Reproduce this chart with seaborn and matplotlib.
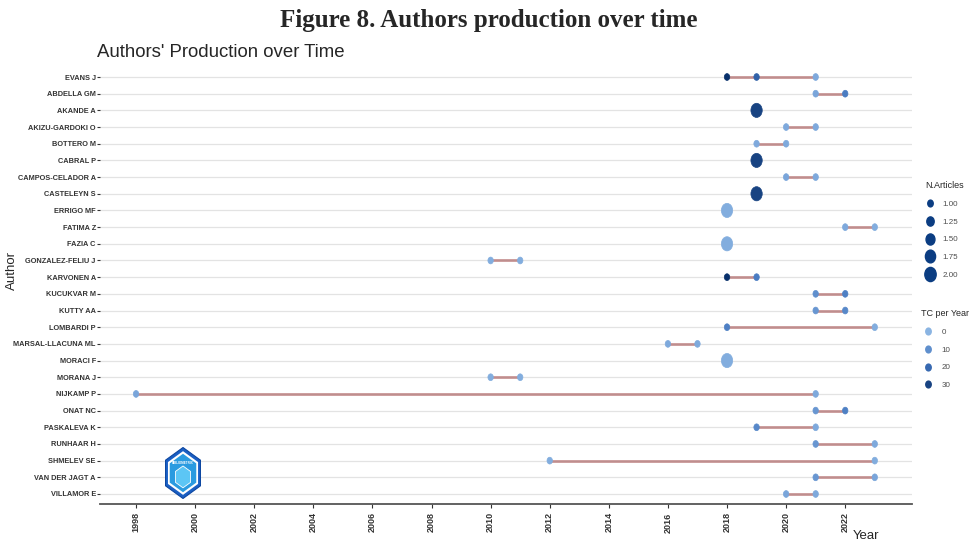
import numpy as np
import pandas as pd
import seaborn as sns
import matplotlib.pyplot as plt
from matplotlib.colors import LinearSegmentedColormap
from matplotlib.lines import Line2D
from matplotlib.patches import RegularPolygon
from matplotlib.path import Path
from matplotlib.transforms import Affine2D

# ---------------- data ----------------
authors = ["EVANS J", "ABDELLA GM", "AKANDE A", "AKIZU-GARDOKI O", "BOTTERO M",
           "CABRAL P", "CAMPOS-CELADOR A", "CASTELEYN S", "ERRIGO MF", "FATIMA Z",
           "FAZIA C", "GONZALEZ-FELIU J", "KARVONEN A", "KUCUKVAR M", "KUTTY AA",
           "LOMBARDI P", "MARSAL-LLACUNA ML", "MORACI F", "MORANA J", "NIJKAMP P",
           "ONAT NC", "PASKALEVA K", "RUNHAAR H", "SHMELEV SE", "VAN DER JAGT A",
           "VILLAMOR E"]

point_author = ["EVANS J", "EVANS J", "EVANS J", "ABDELLA GM", "ABDELLA GM", "AKANDE A",
                "AKIZU-GARDOKI O", "AKIZU-GARDOKI O", "BOTTERO M", "BOTTERO M", "CABRAL P",
                "CAMPOS-CELADOR A", "CAMPOS-CELADOR A", "CASTELEYN S", "ERRIGO MF",
                "FATIMA Z", "FATIMA Z", "FAZIA C", "GONZALEZ-FELIU J", "GONZALEZ-FELIU J",
                "KARVONEN A", "KARVONEN A", "KUCUKVAR M", "KUCUKVAR M", "KUTTY AA", "KUTTY AA",
                "LOMBARDI P", "LOMBARDI P", "MARSAL-LLACUNA ML", "MARSAL-LLACUNA ML",
                "MORACI F", "MORANA J", "MORANA J", "NIJKAMP P", "NIJKAMP P",
                "ONAT NC", "ONAT NC", "PASKALEVA K", "PASKALEVA K", "RUNHAAR H", "RUNHAAR H",
                "SHMELEV SE", "SHMELEV SE", "VAN DER JAGT A", "VAN DER JAGT A",
                "VILLAMOR E", "VILLAMOR E"]
point_year = [2018, 2019, 2021, 2021, 2022, 2019,
              2020, 2021, 2019, 2020, 2019,
              2020, 2021, 2019, 2018,
              2022, 2023, 2018, 2010, 2011,
              2018, 2019, 2021, 2022, 2021, 2022,
              2018, 2023, 2016, 2017,
              2018, 2010, 2011, 1998, 2021,
              2021, 2022, 2019, 2021, 2021, 2023,
              2012, 2023, 2021, 2023,
              2020, 2021]
n_articles = [1, 1, 1, 1, 1, 2,
              1, 1, 1, 1, 2,
              1, 1, 2, 2,
              1, 1, 2, 1, 1,
              1, 1, 1, 1, 1, 1,
              1, 1, 1, 1,
              2, 1, 1, 1, 1,
              1, 1, 1, 1, 1, 1,
              1, 1, 1, 1,
              1, 1]
tc_per_year = [35, 22, 3, 4, 15, 30,
               3, 3, 3, 3, 30,
               4, 3, 30, 2,
               3, 2, 2, 2, 2,
               35, 15, 10, 14, 8, 12,
               14, 2, 3, 3,
               2, 2, 2, 4, 3,
               8, 14, 12, 3, 8, 3,
               2, 2, 8, 4,
               4, 3]

size_levels = [1.00, 1.25, 1.50, 1.75, 2.00]
tc_levels = [0, 10, 20, 30]

df = pd.DataFrame({"Author": point_author, "Year": point_year,
                   "N.Articles": n_articles, "TC": tc_per_year})
df["row"] = df["Author"].map({a: i for i, a in enumerate(authors)})
span = df.groupby("row")["Year"].agg(["min", "max"]).reset_index()

# ---------------- style ----------------
sns.set_theme(style="white")
plt.rcParams["font.family"] = ["Liberation Sans", "DejaVu Sans"]

cmap = LinearSegmentedColormap.from_list("tc", ["#8ab4e2", "#3f73bd", "#08306b"])
tc_max = 35
# the source picture is squeezed sideways, so the dots are slightly oval
oval = Affine2D().scale(0.8, 1.0).transform_path(Path.unit_circle())

def size_of(n):
    return 24 + (n - 1) * 80

fig = plt.figure(figsize=(9.74, 5.43), dpi=100)
ax = fig.add_axes([100 / 974, 39 / 543, 812 / 974, 437 / 543])

# lines between first and last year
ax.hlines(span["row"], span["min"], span["max"], color="#8B1A1A", alpha=0.42, lw=2.1, zorder=2)

sns.scatterplot(data=df, x="Year", y="row", hue="TC", palette=cmap, hue_norm=(0, tc_max),
                size="N.Articles", sizes=(size_of(1), size_of(2)), size_norm=(1, 2),
                marker=oval, edgecolor="face", linewidth=0.5, legend=False, ax=ax, zorder=3)

ax.set_ylim(25.6, -0.6)
ax.set_yticks(range(len(authors)))
ax.set_yticklabels(authors, fontsize=5.3, fontweight="bold", color="#333333")
ax.set_xlim(1996.78, 2024.26)
ax.set_xticks(range(1998, 2023, 2))
ax.set_xticklabels([str(y) for y in range(1998, 2023, 2)], rotation=90,
                   fontsize=6.5, fontweight="bold", color="#333333")
ax.tick_params(axis="y", length=2, width=0.8, color="#333333", pad=1, left=True)
ax.tick_params(axis="x", length=3, width=0.8, color="#333333", pad=3, bottom=True)
ax.set_xlabel("")
ax.set_ylabel("")
ax.yaxis.grid(True, color="#e3e3e3", lw=0.9)
ax.xaxis.grid(False)
ax.set_axisbelow(True)
for s in ["left", "top", "right"]:
    ax.spines[s].set_visible(False)
ax.spines["bottom"].set_color("#555555")
ax.spines["bottom"].set_linewidth(1.3)

# titles and axis labels
fig.text(489 / 974, 1 - 27 / 543, "Figure 8. Authors production over time",
         ha="center", va="baseline", fontsize=18, fontweight="bold", family="Liberation Serif")
fig.text(97 / 974, 1 - 57 / 543, "Authors' Production over Time", ha="left", va="baseline",
         fontsize=13.4)
fig.text(12 / 974, 1 - 270 / 543, "Author", rotation=90, ha="center", va="center", fontsize=9.5)
fig.text(866 / 974, 1 - 536 / 543, "Year", ha="center", va="center", fontsize=9.5)

# legends
size_handles = [Line2D([], [], marker=oval, ls="", color="#0b3d82",
                       markersize=np.sqrt(size_of(v))) for v in size_levels]
leg1 = ax.legend(size_handles, [f"{v:.2f}" for v in size_levels], title="N.Articles",
                 loc="upper left", bbox_to_anchor=(922 / 974, 1 - 178 / 543),
                 bbox_transform=fig.transFigure, frameon=False, fontsize=5.8,
                 title_fontsize=6.5, alignment="left", labelspacing=1.25,
                 handletextpad=0.9, handlelength=1.2, borderaxespad=0)
for t in leg1.get_texts():
    t.set_color("#4d4d4d")
ax.add_artist(leg1)

tc_handles = [Line2D([], [], marker=oval, ls="", markersize=np.sqrt(size_of(1)),
                     color=cmap(v / tc_max)) for v in tc_levels]
leg2 = ax.legend(tc_handles, [str(v) for v in tc_levels], title="TC per Year",
                 loc="upper left", bbox_to_anchor=(918 / 974, 1 - 306 / 543),
                 bbox_transform=fig.transFigure, frameon=False, fontsize=5.8,
                 title_fontsize=6.5, alignment="left", labelspacing=1.25,
                 handletextpad=0.9, handlelength=1.6, borderaxespad=0)
for t in leg2.get_texts():
    t.set_color("#4d4d4d")

# bibliometrix logo (hexagon, squeezed like the rest of the picture)
logo = fig.add_axes([165 / 974, (543 - 499) / 543, 36 / 974, 52 / 543])
logo.set_xlim(-0.87, 0.87)
logo.set_ylim(-1, 1)
logo.axis("off")
logo.add_patch(RegularPolygon((0, 0), 6, radius=0.98, facecolor="#1a5fc4", edgecolor="#0d47a1", lw=0.8))
logo.add_patch(RegularPolygon((0, 0), 6, radius=0.84, facecolor="white", edgecolor="none"))
logo.add_patch(RegularPolygon((0, 0), 6, radius=0.74, facecolor="#2a9be0", edgecolor="none"))
logo.add_patch(RegularPolygon((0, -0.15), 6, radius=0.42, facecolor="#5cc6f5", edgecolor="white", lw=0.6))
logo.text(0, 0.38, "BIBLIOMETRIX", ha="center", va="center", fontsize=2.2, color="white",
          fontweight="bold")

fig.savefig("out.png", dpi=100)
